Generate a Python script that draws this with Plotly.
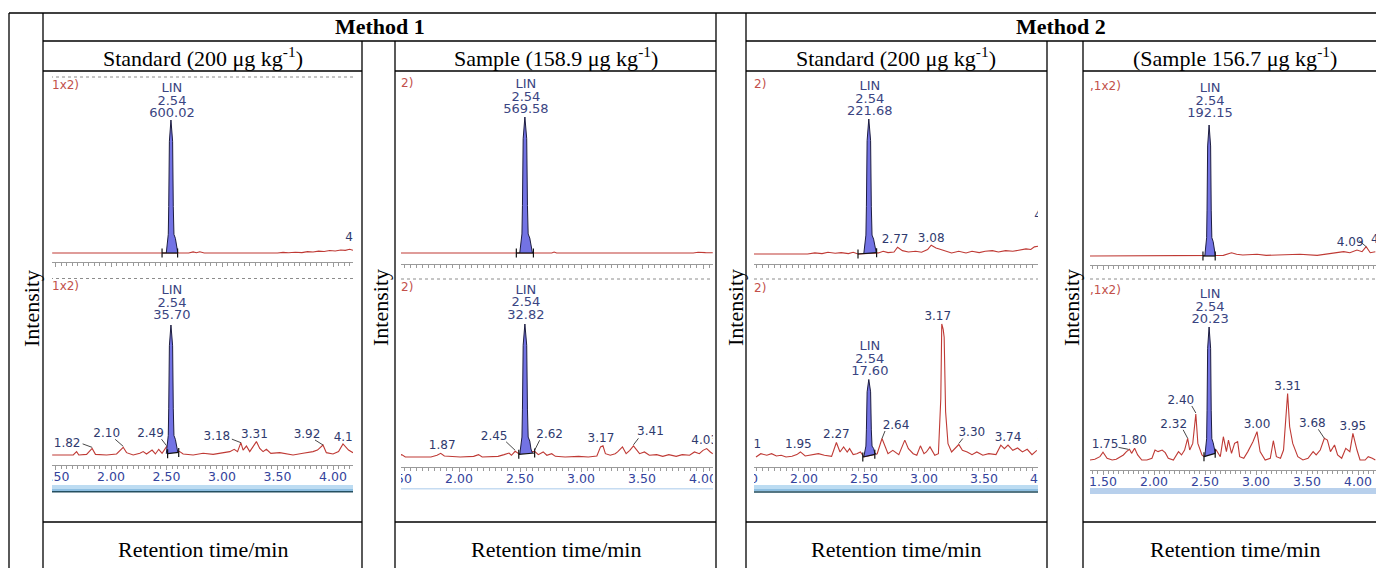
import plotly.graph_objects as go

W, H = 1376, 568

# ---------------- data : retention time (min) and relative intensity (%) ----------------
lin_t = [2.498, 2.503, 2.510, 2.516, 2.520, 2.526, 2.540, 2.555, 2.561, 2.567, 2.580, 2.590, 2.602]

# Method 1 - Standard, upper trace
c1_t = [1.47, 2.40, 2.46, 2.61, 2.70, 2.74, 2.77, 2.80, 2.84, 3.50, 3.55, 3.60, 3.66, 3.72, 3.77,
        3.82, 3.87, 3.92, 3.97, 4.02, 4.07, 4.11, 4.15, 4.18]
c1_i = [0, 0, 0, 0, 0, 0.8, 0.2, 0.9, 0, 0, 0.5, 0.2, 0.6, 0.3, 1.0, 0.7, 1.4, 1.1, 1.9, 1.5, 2.2,
        2.0, 2.8, 2.0]
c1_lin = [0, 5, 11, 14, 35, 84, 100, 84, 35, 14, 11, 5, 0]
c1_marks = [2.46, 2.60]
c1_area = "600.02"
c1_lab = ["4.13"]
c1_lab_t = [4.15]
c1_lab_i = [2.8]

# Method 1 - Standard, lower trace
c2_t = [1.47, 1.66, 1.69, 1.71, 1.78, 1.83, 1.86, 1.96, 2.05, 2.11, 2.14, 2.20, 2.26, 2.29, 2.32,
        2.37, 2.40, 2.43, 2.46, 2.50, 2.62, 2.65, 2.74, 2.83, 2.92, 3.01, 3.07, 3.11, 3.14, 3.17,
        3.19, 3.22, 3.25, 3.28, 3.31, 3.34, 3.37, 3.40, 3.44, 3.52, 3.64, 3.73, 3.82, 3.86, 3.91,
        3.94, 4.00, 4.05, 4.09, 4.14, 4.18]
c2_i = [0, 0, 2.6, 0, 0.5, 5.1, 0.5, 0, 0.8, 5.9, 1.8, 0, 1.3, 2.6, 0.8, 3.8, 0.8, 4.4, 1.3, 6.4,
        2.6, 0.8, 0, 1.3, 0.5, 1.8, 2.6, 4.4, 2.6, 9.5, 3.8, 6.9, 2.6, 6.4, 10.3, 5.1, 2.6, 4.4,
        1.3, 1.8, 0, 1.3, 2.6, 3.8, 7.7, 1.8, 0.8, 2.6, 8.5, 3.8, 1.8]
c2_lin = [1, 6, 12, 15, 36, 84, 100, 84, 36, 15, 12, 6, 2]
c2_marks = [2.51, 2.61]
c2_area = "35.70"
c2_lab = ["1.82", "2.10", "2.49", "3.18", "3.31", "3.92", "4.11"]
c2_lab_t = [1.83, 2.11, 2.50, 3.17, 3.31, 3.91, 4.09]
c2_lab_i = [5.1, 5.9, 6.4, 9.5, 10.3, 7.7, 8.5]

# Method 1 - Sample, upper trace
c3_t = [1.47, 2.46, 2.61, 2.76, 2.78, 2.80, 2.84, 3.80, 3.85, 3.88, 3.92, 3.96, 3.99, 4.02, 4.08]
c3_i = [0, 0, 0, 0, 0.7, 0, 0, 0, 0.5, 0, 0, 0.6, 0.2, 0.3, 0.2]
c3_lin = [0, 5, 11, 14, 35, 84, 100, 84, 35, 14, 11, 5, 0]
c3_marks = [2.47, 2.61]
c3_area = "569.58"
c3_lab = []
c3_lab_t = []
c3_lab_i = []

# Method 1 - Sample, lower trace
c4_t = [1.47, 1.53, 1.56, 1.77, 1.82, 1.85, 1.88, 1.93, 2.01, 2.12, 2.16, 2.19, 2.32, 2.37, 2.41,
        2.43, 2.46, 2.49, 2.62, 2.65, 2.69, 2.72, 2.76, 2.79, 2.87, 2.98, 3.06, 3.13, 3.16, 3.18,
        3.20, 3.24, 3.28, 3.30, 3.34, 3.37, 3.40, 3.43, 3.46, 3.48, 3.52, 3.56, 3.62, 3.67, 3.72,
        3.78, 3.83, 3.89, 3.93, 3.97, 4.00, 4.03, 4.06, 4.08]
c4_i = [0, 1.8, 0, 0, 1.3, 2.8, 0.8, 0.5, 0, 0.5, 1.8, 0, 0.5, 1.8, 3.0, 1.3, 4.3, 2.5, 4.3, 1.8,
        3.8, 1.3, 2.5, 0.5, 0, 0.5, 0, 0.8, 7.6, 8.4, 2.5, 1.3, 2.5, 3.8, 7.6, 2.5, 5.0, 8.4, 5.0,
        2.5, 3.8, 1.3, 1.8, 0.5, 1.8, 0.5, 1.8, 1.3, 3.8, 2.5, 5.0, 6.3, 3.8, 2.5]
c4_lin = [2, 6, 12, 15, 36, 84, 100, 84, 36, 15, 12, 6, 3]
c4_marks = [2.49, 2.62]
c4_area = "32.82"
c4_lab = ["1.87", "2.45", "2.62", "3.17", "3.41", "4.03"]
c4_lab_t = [1.85, 2.46, 2.62, 3.18, 3.43, 4.03]
c4_lab_i = [2.8, 4.3, 4.3, 8.4, 8.4, 6.3]

# Method 2 - Standard, upper trace
c5_t = [1.58, 2.03, 2.09, 2.15, 2.20, 2.26, 2.31, 2.37, 2.41, 2.45, 2.62, 2.66, 2.70, 2.75, 2.78,
        2.82, 2.87, 2.93, 2.98, 3.03, 3.06, 3.10, 3.14, 3.18, 3.23, 3.29, 3.35, 3.40, 3.46, 3.51,
        3.57, 3.62, 3.68, 3.74, 3.79, 3.85, 3.89, 3.92, 3.95]
c5_i = [0, 0, 0.8, 0.3, 1.3, 0.5, 1.0, 0.3, 1.3, 0, 0.8, 2.0, 1.0, 1.5, 5.0, 2.5, 1.5, 2.0, 1.3,
        3.3, 6.5, 4.5, 3.3, 2.0, 0.8, 2.0, 0.8, 2.0, 1.0, 2.0, 2.5, 1.5, 2.5, 2.0, 3.0, 3.8, 3.3,
        5.3, 5.8]
c5_lin = [0, 5, 11, 14, 35, 84, 100, 84, 35, 14, 11, 5, 1]
c5_marks = [2.45, 2.605]
c5_area = "221.68"
c5_lab = ["2.77", "3.08", "4.04"]
c5_lab_t = [2.78, 3.06, 3.95]
c5_lab_i = [5.0, 6.5, 5.8]

# Method 2 - Standard, lower trace
c6_t = [1.60, 1.64, 1.69, 1.73, 1.77, 1.81, 1.85, 1.90, 1.94, 1.97, 2.01, 2.06, 2.12, 2.17, 2.23,
        2.27, 2.30, 2.33, 2.36, 2.38, 2.41, 2.44, 2.47, 2.50, 2.61, 2.65, 2.68, 2.70, 2.74, 2.79,
        2.84, 2.87, 2.91, 2.94, 2.97, 3.00, 3.02, 3.05, 3.09, 3.12, 3.14, 3.148, 3.16, 3.168, 3.18,
        3.20, 3.23, 3.26, 3.29, 3.32, 3.36, 3.40, 3.44, 3.49, 3.54, 3.60, 3.64, 3.67, 3.70, 3.74,
        3.78, 3.82, 3.86, 3.90, 3.94]
c6_i = [0, 2.5, 1.3, 2.5, 0.8, 1.3, 0, 0.5, 1.8, 3.8, 0.8, 1.8, 2.5, 1.3, 0.5, 10.9, 3.8, 7.6,
        3.8, 6.3, 1.8, 2.5, 3.8, 0, 2.5, 13.9, 6.3, 2.5, 5.0, 1.8, 12.7, 6.3, 2.5, 1.3, 8.4, 2.5,
        3.8, 7.6, 1.3, 2.5, 44, 100, 96, 90, 34, 10, 3.8, 6.3, 9.4, 5.0, 3.8, 1.8, 3.8, 1.3, 2.5,
        1.8, 8.9, 6.3, 8.9, 5.0, 6.8, 3.8, 5.8, 1.8, 5.0]
c6_lin = [0, 3, 6.4, 8.2, 20.4, 49, 58.3, 49, 20.4, 8.2, 6.4, 3, 2]
c6_marks = [2.49, 2.59]
c6_area = "17.60"
c6_lab = ["1.81", "1.95", "2.27", "2.64", "3.17", "3.30", "3.74", "3.95"]
c6_lab_t = [1.64, 1.97, 2.27, 2.65, 3.148, 3.29, 3.70, 3.94]
c6_lab_i = [2.5, 3.8, 10.9, 13.9, 100, 9.4, 8.9, 5.0]

# Method 2 - Sample, upper trace
c7_t = [1.37, 1.96, 1.99, 2.04, 2.47, 2.60, 2.68, 2.76, 2.81, 2.87, 3.01, 3.10, 3.27, 3.43, 3.60,
        3.76, 3.86, 3.92, 3.99, 4.04, 4.08, 4.12, 4.17]
c7_i = [0, 0, 0.5, 0, 0, 0, 0.5, 2.5, 1.3, 0.8, 1.3, 0.5, 0.8, 1.3, 0.5, 2.0, 3.3, 2.5, 4.6, 3.3,
        7.1, 2.5, 3.3]
c7_lin = [0, 5, 11, 14, 35, 84, 100, 84, 35, 14, 11, 5, 0]
c7_marks = [2.48, 2.60]
c7_area = "192.15"
c7_lab = ["4.09", "4.13"]
c7_lab_t = [4.08, 4.17]
c7_lab_i = [7.1, 3.3]

# Method 2 - Sample, lower trace
c8_t = [1.37, 1.42, 1.47, 1.50, 1.54, 1.59, 1.63, 1.67, 1.70, 1.73, 1.76, 1.78, 1.81, 1.84, 1.88,
        1.93, 1.98, 2.01, 2.04, 2.08, 2.11, 2.14, 2.19, 2.24, 2.27, 2.30, 2.33, 2.35, 2.38, 2.41,
        2.43, 2.47, 2.49, 2.61, 2.65, 2.68, 2.71, 2.73, 2.76, 2.79, 2.82, 2.84, 2.88, 2.92, 2.97,
        3.01, 3.04, 3.09, 3.14, 3.17, 3.20, 3.24, 3.27, 3.31, 3.33, 3.36, 3.39, 3.41, 3.46, 3.51,
        3.56, 3.59, 3.63, 3.67, 3.70, 3.73, 3.77, 3.80, 3.84, 3.88, 3.92, 3.95, 3.99, 4.02, 4.07,
        4.10, 4.14, 4.17]
c8_i = [0, 0.5, 2.5, 5.8, 1.3, 0, 0.5, 2.5, 3.8, 6.3, 8.0, 5.0, 8.8, 3.8, 0, 0, 1.3, 7.5, 6.3, 7.5,
        5.5, 1.3, 0, 6.3, 3.8, 7.5, 16.3, 7.5, 12.5, 34.6, 12.5, 3.8, 2.5, 7.5, 2.5, 17.5, 6.3, 15.0,
        5.0, 12.5, 13.8, 2.5, 1.3, 6.3, 13.8, 21.3, 6.3, 0, 1.3, 14.5, 2.5, 1.3, 7.5, 50, 25, 12.5,
        6.3, 2.5, 0, 1.3, 6.3, 3.8, 7.5, 16.3, 15.0, 6.3, 11.3, 3.8, 1.3, 8.8, 6.3, 20, 7.5, 0, 0,
        2.5, 1.3, 0]
c8_lin = [2.5, 7, 13, 16, 37, 84, 100, 84, 37, 16, 13, 8, 5]
c8_marks = [2.49, 2.60]
c8_area = "20.23"
c8_lab = ["1.75", "1.80", "2.32", "2.40", "3.00", "3.31", "3.68", "3.95"]
c8_lab_t = [1.76, 1.81, 2.33, 2.41, 3.01, 3.31, 3.67, 3.95]
c8_lab_i = [8.0, 8.8, 16.3, 34.6, 21.3, 50, 16.3, 20]

channel_tags = ["1x2)", "1x2)", "2)", "2)", "2)", "2)", ",1x2)", ",1x2)"]
method_titles = ["<b>Method 1</b>", "<b>Method 2</b>"]
sub_titles = ["Standard (200 μg kg<sup>-1</sup>)", "Sample (158.9 μg kg<sup>-1</sup>)",
              "Standard (200 μg kg<sup>-1</sup>)", "(Sample 156.7 μg kg<sup>-1</sup>)"]
x_title = "Retention time/min"
y_title = "Intensity"
compound = "LIN"
lin_rt = "2.54"

# ---------------- layout geometry (pixels) and label styling ----------------
geom = [  # xl, xr, x(1.50), px/min, ytop, yaxis, baseline, apex, ticklabels, value-label dy
    dict(xl=52, xr=353, x150=55.5, ppm=111, ytop=77, yax=262, base=253, apex=120, lab=False, v=-6),
    dict(xl=52, xr=353, x150=55.5, ppm=111, ytop=279, yax=465, base=455, apex=325, lab=True, v=-9),
    dict(xl=397, xr=713, x150=398, ppm=122, ytop=72, yax=264, base=253, apex=117, lab=False, v=-7),
    dict(xl=397, xr=713, x150=398, ppm=122, ytop=280, yax=467, base=457, apex=324, lab=True, v=-8.5),
    dict(xl=743, xr=1046, x150=744, ppm=120, ytop=72, yax=264, base=254, apex=119, lab=False, v=-7),
    dict(xl=743, xr=1046, x150=744, ppm=120, ytop=280, yax=467, base=457, apex=324, lab=True, v=-7.5),
    dict(xl=1090, xr=1376, x150=1103, ppm=102, ytop=72, yax=265, base=256, apex=125, lab=False, v=-11),
    dict(xl=1090, xr=1376, x150=1103, ppm=102, ytop=283, yax=470, base=460, apex=327, lab=True, v=-7),
]
tag_pos = [(52, 86), (52, 287), (401, 84), (401, 288), (754, 85), (754, 289), (1090, 87), (1090, 291)]
# text offsets (px) of peak labels from the peak, and optional leader lines (tail dx,dy, tip dx,dy)
offs = [
    [(9, -11)],
    [(-25, -4.5), (-16.5, -13), (-16, -13), (-24, -6), (-2, -7), (-16, -10), (4, -6)],
    [],
    [(1.5, -7.5), (-21, -14), (15, -16), (-2, -7), (17, -13.5), (-2, -8)],
    [(-2.5, -7), (0, -6.5), (9.5, -29.7)],
    [(-13, -8.7), (-2, -7), (0, -7.5), (14, -13), (-4, -7), (13, -12), (0, -7), (14, -13.7)],
    [(-16, -4), (9, -12)],
    [(-24.5, -4), (-1, -7), (-14, -13), (-15, -13), (0, -7), (0, -7), (-12, -14), (0, -6.5)],
]
leads = [
    [None],
    [(-9.5, -4.5, 0, -1), (-8, -8, 0, -1), (-5, -7.5, 0, -1), (-9, -3.5, 0, 0), None, (-8, -5, 0, 0), None],
    [],
    [None, (-9, -9.5, 0, -1), (5, -11, 0, -1), None, (5, -7.5, 0, -1), None],
    [None, None, None],
    [None, None, None, (3, -7.5, 0, 0), None, (4, -6, 0, -1), None, None],
    [(-7, -6, 0, 0), None],
    [(-11, -2, -1, 0), None, (-4.5, -8.5, 0, 0), (-4, -8, 0, -1), None, None, (-6, -9, 0, 0), None],
]

series = [
    (c1_t, c1_i, c1_lin, c1_marks, c1_area, c1_lab, c1_lab_t, c1_lab_i),
    (c2_t, c2_i, c2_lin, c2_marks, c2_area, c2_lab, c2_lab_t, c2_lab_i),
    (c3_t, c3_i, c3_lin, c3_marks, c3_area, c3_lab, c3_lab_t, c3_lab_i),
    (c4_t, c4_i, c4_lin, c4_marks, c4_area, c4_lab, c4_lab_t, c4_lab_i),
    (c5_t, c5_i, c5_lin, c5_marks, c5_area, c5_lab, c5_lab_t, c5_lab_i),
    (c6_t, c6_i, c6_lin, c6_marks, c6_area, c6_lab, c6_lab_t, c6_lab_i),
    (c7_t, c7_i, c7_lin, c7_marks, c7_area, c7_lab, c7_lab_t, c7_lab_i),
    (c8_t, c8_i, c8_lin, c8_marks, c8_area, c8_lab, c8_lab_t, c8_lab_i),
]

RED = "#bf3a35"
FILL = "#7373e4"
OUTL = "#1d1d40"
LABC = "#2f3a6e"
TICKC = "#34439c"
AXC = "#9a9a9a"
CFONT = "DejaVu Sans"
SERIF = "Liberation Serif"

fig = go.Figure()
layout = {}

for k, (g, s) in enumerate(zip(geom, series), start=1):
    t_arr, i_arr, lin_arr, marks, area, labs, lab_t, lab_i = s
    ppu = (g["base"] - g["apex"]) / 100.0
    def t_of(px, g=g):
        return 1.5 + (px - g["x150"]) / g["ppm"]
    def i_of(py, g=g, ppu=ppu):
        return (g["base"] - py) / ppu
    sx = "" if k == 1 else str(k)
    xname, yname = "x" + sx, "y" + sx
    layout["xaxis" + sx] = dict(
        domain=[g["xl"] / W, g["xr"] / W], range=[t_of(g["xl"]), t_of(g["xr"])], anchor=yname,
        showline=True, linecolor=AXC, linewidth=1, ticks="outside", ticklen=4, tickwidth=1,
        tickcolor=AXC, tick0=1.5, dtick=0.5,
        minor=dict(ticks="outside", ticklen=2.5, tickwidth=1, tickcolor=AXC, dtick=0.05, tick0=1.5,
                   showgrid=False),
        showticklabels=g["lab"], tickformat=".2f", ticklabelstandoff=-4, automargin=False,
        tickfont=dict(family=CFONT, size=12.5, color=TICKC),
        showgrid=False, zeroline=False, fixedrange=True)
    layout["yaxis" + sx] = dict(
        domain=[1 - g["yax"] / H, 1 - g["ytop"] / H], range=[i_of(g["yax"]), i_of(g["ytop"])],
        anchor=xname, visible=False, fixedrange=True, automargin=False)

    common = dict(xaxis=xname, yaxis=yname, hoverinfo="skip", showlegend=False)
    # chromatogram trace
    fig.add_trace(go.Scatter(x=t_arr, y=i_arr, mode="lines", line=dict(color=RED, width=1.1), **common))
    # integrated LIN peak
    fig.add_trace(go.Scatter(x=lin_t, y=lin_arr, mode="lines", fill="toself", fillcolor=FILL,
                             line=dict(color=OUTL, width=1), **common))
    # integration markers
    hm = 4.5 / ppu
    ta, tb = marks
    ya, yb = lin_arr[0], lin_arr[-1]
    fig.add_trace(go.Scatter(x=[ta, ta, None, ta, tb, None, tb, tb],
                             y=[ya - hm, ya + hm, None, ya, yb, None, yb - hm, yb + hm],
                             mode="lines", line=dict(color="#111111", width=1.2), **common))
    # LIN labels
    top = max(lin_arr)
    v = g["v"]
    fig.add_trace(go.Scatter(
        x=[2.54 + 1 / g["ppm"]] * 3,
        y=[top - (v - 25) / ppu, top - (v - 12.5) / ppu, top - v / ppu],
        mode="text", text=[compound, lin_rt, area], textposition="middle center",
        textfont=dict(family=CFONT, size=13, color="#3a4582"), **common))
    # peak labels
    if labs:
        o = offs[k - 1]
        fig.add_trace(go.Scatter(
            x=[t + d[0] / g["ppm"] for t, d in zip(lab_t, o)],
            y=[i - d[1] / ppu for i, d in zip(lab_i, o)],
            mode="text", text=labs, textposition="middle center",
            textfont=dict(family=CFONT, size=12, color=LABC), **common))
        lx, ly = [], []
        for t, i, L in zip(lab_t, lab_i, leads[k - 1]):
            if L is None:
                continue
            lx += [t + L[0] / g["ppm"], t + L[2] / g["ppm"], None]
            ly += [i - L[1] / ppu, i - L[3] / ppu, None]
        if lx:
            fig.add_trace(go.Scatter(x=lx, y=ly, mode="lines", line=dict(color="#333333", width=0.9),
                                     **common))
    # channel tag (red, cut at image edge)
    tx, ty = tag_pos[k - 1]
    fig.add_trace(go.Scatter(x=[t_of(tx)], y=[i_of(ty)], mode="text", text=[channel_tags[k - 1]],
                             textposition="middle right",
                             textfont=dict(family=CFONT, size=12, color="#c2504a"), **common))

# ---------------- shapes ----------------
def px_rect(x0, y0, x1, y1, color):
    return dict(type="rect", xref="paper", yref="paper", x0=x0 / W, x1=x1 / W,
                y0=1 - y1 / H, y1=1 - y0 / H, fillcolor=color, line=dict(width=0), layer="above")

def px_line(x0, y0, x1, y1, color="black", width=1.3, dash="solid"):
    return dict(type="line", xref="paper", yref="paper", x0=x0 / W, x1=x1 / W,
                y0=1 - y0 / H, y1=1 - y1 / H, line=dict(color=color, width=width, dash=dash),
                layer="above")

shapes = []
# scroll bars under the chromatograms
shapes += [px_rect(52, 485, 353, 489, "#bddcf2"), px_rect(52, 489, 353, 491, "#8ebfe2"),
           px_rect(52, 491, 353, 492.6, "#244f60")]
shapes += [px_rect(401, 488, 713, 489.6, "#c6dcf2")]
shapes += [px_rect(754, 485, 1038, 489, "#bcdcf2"), px_rect(754, 489, 1038, 491.2, "#8fc0e2"),
           px_rect(754, 491.2, 1038, 492.8, "#214b5b")]
shapes += [px_rect(1090, 488, 1376, 494, "#b8d0ec")]
# dotted separators
shapes += [px_line(44, 77, 353, 77, "#8c8c8c", 1, "dot"), px_line(44, 278.5, 353, 278.5, "#8c8c8c", 1, "dot"),
           px_line(401, 279, 711, 279, "#8c8c8c", 1, "dot"), px_line(754, 279, 1038, 279, "#8c8c8c", 1, "dot"),
           px_line(1090, 279, 1376, 279, "#8c8c8c", 1, "dot")]
# white margins around the screenshot images
for a, b in [(10, 52), (353, 401), (713, 754), (1038, 1090)]:
    shapes.append(px_rect(a, 72, b, 521.5, "white"))
# table grid
shapes.append(px_line(9, 13, 1376, 13))
for y in [41]:
    shapes += [px_line(43, y, 716, y), px_line(746, y, 1376, y)]
for y in [71, 522]:
    shapes += [px_line(43, y, 362, y), px_line(395, y, 716, y), px_line(746, y, 1047, y),
               px_line(1083, y, 1376, y)]
for x in [9, 43, 716, 746]:
    shapes.append(px_line(x, 13, x, 568))
for x in [362, 395, 1047, 1083]:
    shapes.append(px_line(x, 41, x, 568))

# ---------------- table text ----------------
def px_text(x, y, text, size=22, angle=0):
    return dict(xref="paper", yref="paper", x=x / W, y=1 - y / H, text=text, showarrow=False,
                xanchor="center", yanchor="middle", textangle=angle,
                font=dict(family=SERIF, size=size, color="black"))

ann = [px_text(380, 27, method_titles[0]), px_text(1061, 27, method_titles[1])]
for x, s in zip([203, 556, 896, 1235], sub_titles):
    ann.append(px_text(x, 57, s))
for x in [203, 556, 896, 1235]:
    ann.append(px_text(x, 549, x_title))
for x in [31, 380, 735, 1071]:
    ann.append(px_text(x, 308, y_title, angle=-90))

layout.update(width=W, height=H, margin=dict(l=0, r=0, t=0, b=0, pad=0, autoexpand=False),
              paper_bgcolor="white", plot_bgcolor="white", shapes=shapes, annotations=ann,
              showlegend=False)
fig.update_layout(**layout)
fig.write_html("out.html", config={"displayModeBar": False},
               post_script="document.body.style.margin='0';document.body.style.overflow='hidden';")
